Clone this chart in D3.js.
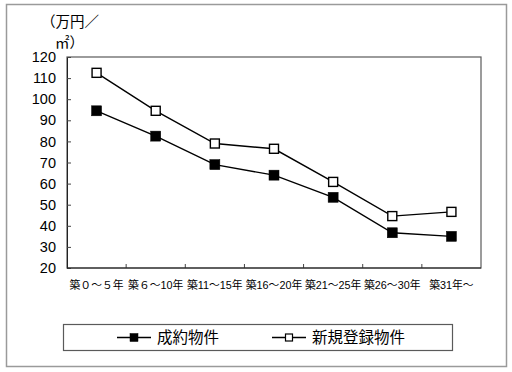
<!DOCTYPE html>
<html>
<head>
<meta charset="utf-8">
<script src="https://cdn.jsdelivr.net/npm/d3@7"></script>
<style>
  body { margin: 0; background: #fff; }
  svg { display: block; }
  text { font-family: "Liberation Sans", Arial, "Noto Sans CJK JP", sans-serif; fill: #000; }
</style>
</head>
<body>
<svg id="chart" width="512" height="372"></svg>
<script>
const categories = ['築０～５年', '築６～10年', '築11～15年', '築16～20年', '築21～25年', '築26～30年', '築31年～'];
const seiyaku = [94.5, 82.5, 69, 64, 53.5, 36.7, 35];
const shinki = [112.5, 94.5, 79, 76.5, 60.8, 44.6, 46.6];
const yTicks = [20, 30, 40, 50, 60, 70, 80, 90, 100, 110, 120];
const seriesNames = ['成約物件', '新規登録物件'];

const opts = {
  left: 67,
  right: 481,
  top: 57,
  bottom: 268,
};

const svg = d3.select('#chart');

// outer frame
svg.append('rect')
  .attr('x', 6.5).attr('y', 4.5)
  .attr('width', 500).attr('height', 362)
  .attr('fill', '#fff')
  .attr('stroke', '#9a9a9a')
  .attr('stroke-width', 1.5);

const x = d3.scaleBand().domain(categories).range([opts.left, opts.right]);
const y = d3.scaleLinear().domain([20, 120]).range([opts.bottom, opts.top]);

// plot frame
svg.append('rect')
  .attr('x', opts.left).attr('y', opts.top)
  .attr('width', opts.right - opts.left).attr('height', opts.bottom - opts.top)
  .attr('fill', 'none')
  .attr('stroke', '#5a5a5a')
  .attr('stroke-width', 1.2);

// y axis, ticks pointing inside
const yAxis = svg.append('g')
  .attr('transform', `translate(${opts.left},0)`)
  .call(d3.axisRight(y).tickValues(yTicks).tickSize(4).tickFormat(d3.format('d')));
yAxis.select('.domain').attr('stroke', '#222');
yAxis.selectAll('.tick line').attr('stroke', '#444');
yAxis.selectAll('.tick text')
  .attr('x', -11)
  .attr('text-anchor', 'end')
  .attr('font-size', 14.5)
  .attr('font-family', '"Liberation Sans", Arial, sans-serif');

// x axis, ticks at category boundaries pointing up
const boundaries = categories.slice(1).map(c => x(c));
svg.append('g').selectAll('line').data(boundaries).enter()
  .append('line')
  .attr('x1', d => d).attr('x2', d => d)
  .attr('y1', opts.bottom).attr('y2', opts.bottom - 4)
  .attr('stroke', '#444');
svg.append('line')
  .attr('x1', opts.left).attr('x2', opts.right)
  .attr('y1', opts.bottom).attr('y2', opts.bottom)
  .attr('stroke', '#222').attr('stroke-width', 1.2);

svg.append('g').selectAll('text').data(categories).enter()
  .append('text')
  .attr('x', d => x(d) + x.bandwidth() / 2)
  .attr('y', 289)
  .attr('text-anchor', 'middle')
  .attr('font-size', 10.8)
  .text(d => d);

// unit label
svg.append('text').attr('x', 41).attr('y', 27).attr('font-size', 14.5).text('（万円／');
svg.append('text').attr('x', 55).attr('y', 48).attr('font-size', 14.5).text('㎡）');

const line = d3.line()
  .x((d, i) => x(categories[i]) + x.bandwidth() / 2)
  .y(d => y(d));

function drawSeries(values, filled) {
  const g = svg.append('g');
  g.append('path')
    .datum(values)
    .attr('d', line)
    .attr('fill', 'none')
    .attr('stroke', '#000')
    .attr('stroke-width', 1.4);
  const s = filled ? 10 : 9;
  g.selectAll('rect').data(values).enter()
    .append('rect')
    .attr('x', (d, i) => x(categories[i]) + x.bandwidth() / 2 - s / 2)
    .attr('y', d => y(d) - s / 2)
    .attr('width', s).attr('height', s)
    .attr('fill', filled ? '#000' : '#fff')
    .attr('stroke', '#000')
    .attr('stroke-width', filled ? 0.5 : 1.4);
}

drawSeries(seiyaku, true);
drawSeries(shinki, false);

// legend
const legend = svg.append('g');
legend.append('rect')
  .attr('x', 63.5).attr('y', 324.5)
  .attr('width', 389).attr('height', 26)
  .attr('fill', '#fff')
  .attr('stroke', '#5a5a5a')
  .attr('stroke-width', 1.2);

const legendItems = [
  { name: seriesNames[0], filled: true, x0: 117 },
  { name: seriesNames[1], filled: false, x0: 272 },
];
legendItems.forEach(item => {
  const cy = 337.5;
  legend.append('line')
    .attr('x1', item.x0).attr('x2', item.x0 + 34)
    .attr('y1', cy).attr('y2', cy)
    .attr('stroke', '#000').attr('stroke-width', 1.4);
  const s = item.filled ? 8 : 7;
  legend.append('rect')
    .attr('x', item.x0 + 17 - s / 2).attr('y', cy - s / 2)
    .attr('width', s).attr('height', s)
    .attr('fill', item.filled ? '#000' : '#fff')
    .attr('stroke', '#000').attr('stroke-width', item.filled ? 0.5 : 1.2);
  legend.append('text')
    .attr('x', item.x0 + 40)
    .attr('y', cy + 5.5)
    .attr('font-size', 15.5)
    .text(item.name);
});
</script>
</body>
</html>
